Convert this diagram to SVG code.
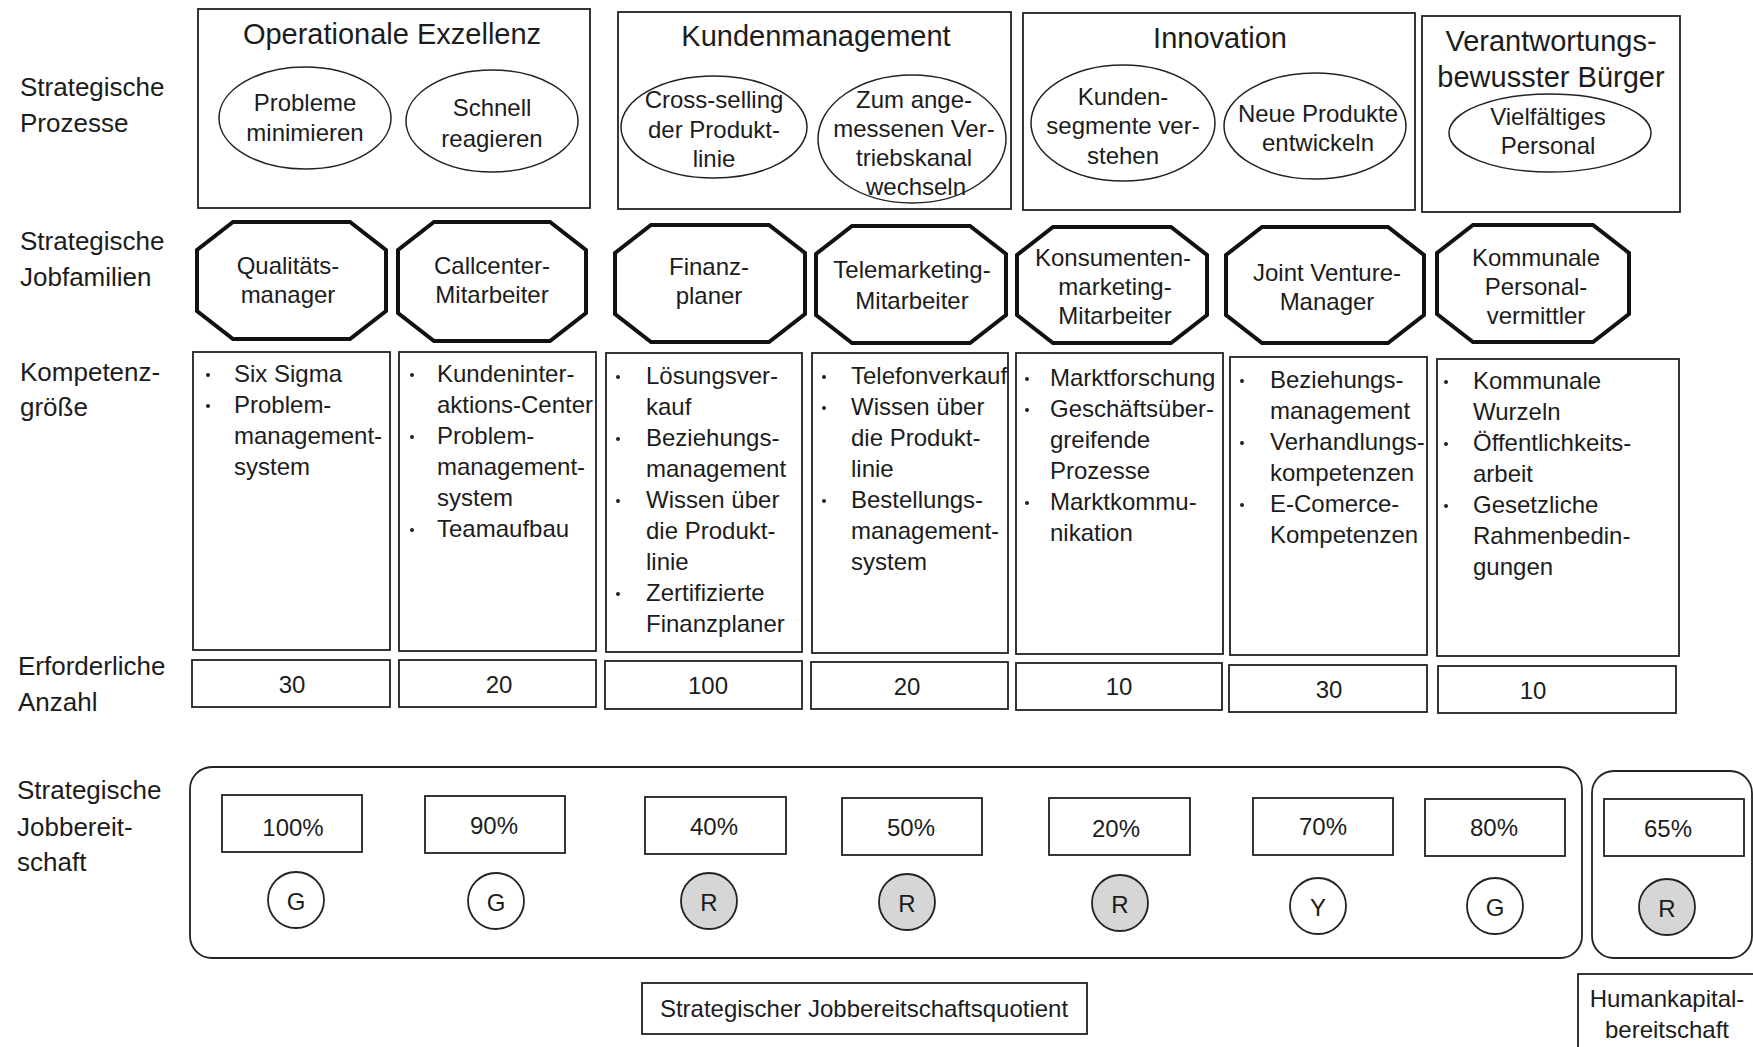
<svg xmlns="http://www.w3.org/2000/svg" width="1753" height="1047" viewBox="0 0 1753 1047">
  <style>
    text { font-family: "Liberation Sans", Arial, Helvetica, sans-serif; fill: #1c1c1c; dominant-baseline: central; }
    .lbl { font-size: 26px; }
    .ttl { font-size: 29px; text-anchor: middle; }
    .t { font-size: 24px; text-anchor: middle; }
    .li { font-size: 24px; }
    .box { fill: #fff; stroke: #222; stroke-width: 1.8; }
    .oval { fill: none; stroke: #222; stroke-width: 1.5; }
    .oct { fill: #fff; stroke: #111; stroke-width: 4; stroke-linejoin: miter; }
    .dot { fill: #222; }
    .ring { fill: #fff; stroke: #222; stroke-width: 1.8; }
    .ring.red { fill: #d6d6d6; }
  </style>

  <rect width="1753" height="1047" fill="#fff"/>

  <!-- row labels -->
  <g id="row-labels" class="lbl">
    <text class="lbl" x="20" y="87">Strategische</text>
    <text class="lbl" x="20" y="123">Prozesse</text>
    <text class="lbl" x="20" y="241">Strategische</text>
    <text class="lbl" x="20" y="277">Jobfamilien</text>
    <text class="lbl" x="20" y="372">Kompetenz-</text>
    <text class="lbl" x="20" y="407">größe</text>
    <text class="lbl" x="18" y="666">Erforderliche</text>
    <text class="lbl" x="18" y="702">Anzahl</text>
    <text class="lbl" x="17" y="790">Strategische</text>
    <text class="lbl" x="17" y="827">Jobbereit-</text>
    <text class="lbl" x="17" y="862">schaft</text>
  </g>

  <!-- strategic processes -->
  <g id="proc-operational">
    <rect class="box" x="198" y="9" width="392" height="199"/>
    <text class="ttl" x="392" y="34">Operationale Exzellenz</text>
    <ellipse class="oval" cx="305" cy="118" rx="86" ry="51"/>
    <text class="t" x="305" y="102">Probleme</text>
    <text class="t" x="305" y="132">minimieren</text>
    <ellipse class="oval" cx="492" cy="121" rx="86" ry="51"/>
    <text class="t" x="492" y="107">Schnell</text>
    <text class="t" x="492" y="138">reagieren</text>
  </g>

  <g id="proc-customer">
    <rect class="box" x="618" y="12" width="393" height="197"/>
    <text class="ttl" x="816" y="36">Kundenmanagement</text>
    <ellipse class="oval" cx="714" cy="127" rx="93" ry="51"/>
    <text class="t" x="714" y="99">Cross-selling</text>
    <text class="t" x="714" y="129">der Produkt-</text>
    <text class="t" x="714" y="158">linie</text>
    <ellipse class="oval" cx="912" cy="139" rx="94" ry="64"/>
    <text class="t" x="914" y="99">Zum ange-</text>
    <text class="t" x="914" y="128">messenen Ver-</text>
    <text class="t" x="914" y="157">triebskanal</text>
    <text class="t" x="916" y="186">wechseln</text>
  </g>

  <g id="proc-innovation">
    <rect class="box" x="1023" y="13" width="392" height="197"/>
    <text class="ttl" x="1220" y="38">Innovation</text>
    <ellipse class="oval" cx="1123" cy="123" rx="92" ry="58"/>
    <text class="t" x="1123" y="96">Kunden-</text>
    <text class="t" x="1123" y="125">segmente ver-</text>
    <text class="t" x="1123" y="155">stehen</text>
    <ellipse class="oval" cx="1315" cy="126" rx="91" ry="53"/>
    <text class="t" x="1318" y="113">Neue Produkte</text>
    <text class="t" x="1318" y="142">entwickeln</text>
  </g>

  <g id="proc-citizen">
    <rect class="box" x="1422" y="16" width="258" height="196"/>
    <text class="ttl" x="1551" y="41">Verantwortungs-</text>
    <text class="ttl" x="1551" y="77">bewusster Bürger</text>
    <ellipse class="oval" cx="1550" cy="133" rx="101" ry="39"/>
    <text class="t" x="1548" y="116">Vielfältiges</text>
    <text class="t" x="1548" y="145">Personal</text>
  </g>

  <!-- strategic job families -->
  <g id="job-quality">
    <polygon class="oct" points="233,222 350,222 386,250 386,311 350,339 233,339 197,311 197,250"/>
    <text class="t" x="288" y="265">Qualitäts-</text>
    <text class="t" x="288" y="294">manager</text>
  </g>
  <g id="job-callcenter">
    <polygon class="oct" points="434,222 550,222 586,250 586,313 550,341 434,341 398,313 398,250"/>
    <text class="t" x="492" y="265">Callcenter-</text>
    <text class="t" x="492" y="294">Mitarbeiter</text>
  </g>
  <g id="job-planner">
    <polygon class="oct" points="651,225 769,225 805,253 805,314 769,342 651,342 615,314 615,253"/>
    <text class="t" x="709" y="266">Finanz-</text>
    <text class="t" x="709" y="295">planer</text>
  </g>
  <g id="job-telemarketing">
    <polygon class="oct" points="852,226 970,226 1006,254 1006,315 970,343 852,343 816,315 816,254"/>
    <text class="t" x="912" y="269">Telemarketing-</text>
    <text class="t" x="912" y="300">Mitarbeiter</text>
  </g>
  <g id="job-consumer">
    <polygon class="oct" points="1053,227 1171,227 1207,255 1207,315 1171,343 1053,343 1017,315 1017,255"/>
    <text class="t" x="1113" y="257">Konsumenten-</text>
    <text class="t" x="1115" y="286">marketing-</text>
    <text class="t" x="1115" y="315">Mitarbeiter</text>
  </g>
  <g id="job-venture">
    <polygon class="oct" points="1262,227 1388,227 1424,255 1424,315 1388,343 1262,343 1226,315 1226,255"/>
    <text class="t" x="1327" y="272">Joint Venture-</text>
    <text class="t" x="1327" y="301">Manager</text>
  </g>
  <g id="job-community">
    <polygon class="oct" points="1473,225 1593,225 1629,253 1629,314 1593,342 1473,342 1437,314 1437,253"/>
    <text class="t" x="1536" y="257">Kommunale</text>
    <text class="t" x="1536" y="286">Personal-</text>
    <text class="t" x="1536" y="315">vermittler</text>
  </g>

  <!-- competence profiles -->
  <g id="comp-1">
    <rect class="box" x="193" y="352" width="197" height="298"/>
    <circle class="dot" cx="208" cy="375" r="2"/>
    <circle class="dot" cx="208" cy="406" r="2"/>
    <text class="li" x="234" y="373">Six Sigma</text>
    <text class="li" x="234" y="404">Problem-</text>
    <text class="li" x="234" y="435">management-</text>
    <text class="li" x="234" y="466">system</text>
  </g>
  <g id="comp-2">
    <rect class="box" x="399" y="352" width="197" height="299"/>
    <circle class="dot" cx="412" cy="375" r="2"/>
    <circle class="dot" cx="412" cy="437" r="2"/>
    <circle class="dot" cx="412" cy="530" r="2"/>
    <text class="li" x="437" y="373">Kundeninter-</text>
    <text class="li" x="437" y="404">aktions-Center</text>
    <text class="li" x="437" y="435">Problem-</text>
    <text class="li" x="437" y="466">management-</text>
    <text class="li" x="437" y="497">system</text>
    <text class="li" x="437" y="528">Teamaufbau</text>
  </g>
  <g id="comp-3">
    <rect class="box" x="606" y="353" width="196" height="299"/>
    <circle class="dot" cx="618" cy="377" r="2"/>
    <circle class="dot" cx="618" cy="439" r="2"/>
    <circle class="dot" cx="618" cy="501" r="2"/>
    <circle class="dot" cx="618" cy="594" r="2"/>
    <text class="li" x="646" y="375">Lösungsver-</text>
    <text class="li" x="646" y="406">kauf</text>
    <text class="li" x="646" y="437">Beziehungs-</text>
    <text class="li" x="646" y="468">management</text>
    <text class="li" x="646" y="499">Wissen über</text>
    <text class="li" x="646" y="530">die Produkt-</text>
    <text class="li" x="646" y="561">linie</text>
    <text class="li" x="646" y="592">Zertifizierte</text>
    <text class="li" x="646" y="623">Finanzplaner</text>
  </g>
  <g id="comp-4">
    <rect class="box" x="812" y="353" width="196" height="300"/>
    <circle class="dot" cx="824" cy="377" r="2"/>
    <circle class="dot" cx="824" cy="408" r="2"/>
    <circle class="dot" cx="824" cy="501" r="2"/>
    <text class="li" x="851" y="375">Telefonverkauf</text>
    <text class="li" x="851" y="406">Wissen über</text>
    <text class="li" x="851" y="437">die Produkt-</text>
    <text class="li" x="851" y="468">linie</text>
    <text class="li" x="851" y="499">Bestellungs-</text>
    <text class="li" x="851" y="530">management-</text>
    <text class="li" x="851" y="561">system</text>
  </g>
  <g id="comp-5">
    <rect class="box" x="1016" y="353" width="207" height="301"/>
    <circle class="dot" cx="1027" cy="379" r="2"/>
    <circle class="dot" cx="1027" cy="410" r="2"/>
    <circle class="dot" cx="1027" cy="503" r="2"/>
    <text class="li" x="1050" y="377">Marktforschung</text>
    <text class="li" x="1050" y="408">Geschäftsüber-</text>
    <text class="li" x="1050" y="439">greifende</text>
    <text class="li" x="1050" y="470">Prozesse</text>
    <text class="li" x="1050" y="501">Marktkommu-</text>
    <text class="li" x="1050" y="532">nikation</text>
  </g>
  <g id="comp-6">
    <rect class="box" x="1230" y="357" width="197" height="298"/>
    <circle class="dot" cx="1242" cy="381" r="2"/>
    <circle class="dot" cx="1242" cy="443" r="2"/>
    <circle class="dot" cx="1242" cy="505" r="2"/>
    <text class="li" x="1270" y="379">Beziehungs-</text>
    <text class="li" x="1270" y="410">management</text>
    <text class="li" x="1270" y="441">Verhandlungs-</text>
    <text class="li" x="1270" y="472">kompetenzen</text>
    <text class="li" x="1270" y="503">E-Comerce-</text>
    <text class="li" x="1270" y="534">Kompetenzen</text>
  </g>
  <g id="comp-7">
    <rect class="box" x="1437" y="359" width="242" height="297"/>
    <circle class="dot" cx="1446" cy="382" r="2"/>
    <circle class="dot" cx="1446" cy="444" r="2"/>
    <circle class="dot" cx="1446" cy="506" r="2"/>
    <text class="li" x="1473" y="380">Kommunale</text>
    <text class="li" x="1473" y="411">Wurzeln</text>
    <text class="li" x="1473" y="442">Öffentlichkeits-</text>
    <text class="li" x="1473" y="473">arbeit</text>
    <text class="li" x="1473" y="504">Gesetzliche</text>
    <text class="li" x="1473" y="535">Rahmenbedin-</text>
    <text class="li" x="1473" y="566">gungen</text>
  </g>

  <!-- required headcount -->
  <g id="count-1"><rect class="box" x="192" y="660" width="198" height="47"/><text class="t" x="292" y="684">30</text></g>
  <g id="count-2"><rect class="box" x="399" y="660" width="197" height="47"/><text class="t" x="499" y="684">20</text></g>
  <g id="count-3"><rect class="box" x="605" y="661" width="197" height="48"/><text class="t" x="708" y="685">100</text></g>
  <g id="count-4"><rect class="box" x="811" y="662" width="197" height="47"/><text class="t" x="907" y="686">20</text></g>
  <g id="count-5"><rect class="box" x="1016" y="663" width="206" height="47"/><text class="t" x="1119" y="686">10</text></g>
  <g id="count-6"><rect class="box" x="1229" y="665" width="198" height="47"/><text class="t" x="1329" y="689">30</text></g>
  <g id="count-7"><rect class="box" x="1438" y="666" width="238" height="47"/><text class="t" x="1533" y="690">10</text></g>

  <!-- strategic job readiness -->
  <g id="readiness-panel">
    <rect class="box" x="190" y="767" width="1392" height="191" rx="22" ry="22"/>
  </g>
  <g id="human-capital-panel">
    <rect class="box" x="1592" y="771" width="160" height="187" rx="22" ry="22"/>
  </g>

  <g id="ready-1">
    <rect class="box" x="222" y="795" width="140" height="57"/><text class="t" x="293" y="827">100%</text>
    <circle class="ring" cx="296" cy="900" r="28"/><text class="t" x="296" y="901">G</text>
  </g>
  <g id="ready-2">
    <rect class="box" x="425" y="796" width="140" height="57"/><text class="t" x="494" y="825">90%</text>
    <circle class="ring" cx="496" cy="901" r="28"/><text class="t" x="496" y="902">G</text>
  </g>
  <g id="ready-3">
    <rect class="box" x="645" y="797" width="141" height="57"/><text class="t" x="714" y="826">40%</text>
    <circle class="ring red" cx="709" cy="901" r="28"/><text class="t" x="709" y="902">R</text>
  </g>
  <g id="ready-4">
    <rect class="box" x="842" y="798" width="140" height="57"/><text class="t" x="911" y="827">50%</text>
    <circle class="ring red" cx="907" cy="902" r="28"/><text class="t" x="907" y="903">R</text>
  </g>
  <g id="ready-5">
    <rect class="box" x="1049" y="798" width="141" height="57"/><text class="t" x="1116" y="828">20%</text>
    <circle class="ring red" cx="1120" cy="903" r="28"/><text class="t" x="1120" y="904">R</text>
  </g>
  <g id="ready-6">
    <rect class="box" x="1253" y="798" width="140" height="57"/><text class="t" x="1323" y="826">70%</text>
    <circle class="ring" cx="1318" cy="906" r="28"/><text class="t" x="1318" y="907">Y</text>
  </g>
  <g id="ready-7">
    <rect class="box" x="1425" y="799" width="140" height="57"/><text class="t" x="1494" y="827">80%</text>
    <circle class="ring" cx="1495" cy="906" r="28"/><text class="t" x="1495" y="907">G</text>
  </g>
  <g id="ready-8">
    <rect class="box" x="1604" y="799" width="140" height="57"/><text class="t" x="1668" y="828">65%</text>
    <circle class="ring red" cx="1667" cy="907" r="28"/><text class="t" x="1667" y="908">R</text>
  </g>

  <!-- captions -->
  <g id="caption-quotient">
    <rect class="box" x="642" y="983" width="445" height="51"/>
    <text class="t" x="864" y="1008">Strategischer Jobbereitschaftsquotient</text>
  </g>
  <g id="caption-human-capital">
    <rect class="box" x="1578" y="974" width="190" height="90"/>
    <text class="t" x="1667" y="998">Humankapital-</text>
    <text class="t" x="1667" y="1029">bereitschaft</text>
  </g>

  <g id="connectors"/>
</svg>
